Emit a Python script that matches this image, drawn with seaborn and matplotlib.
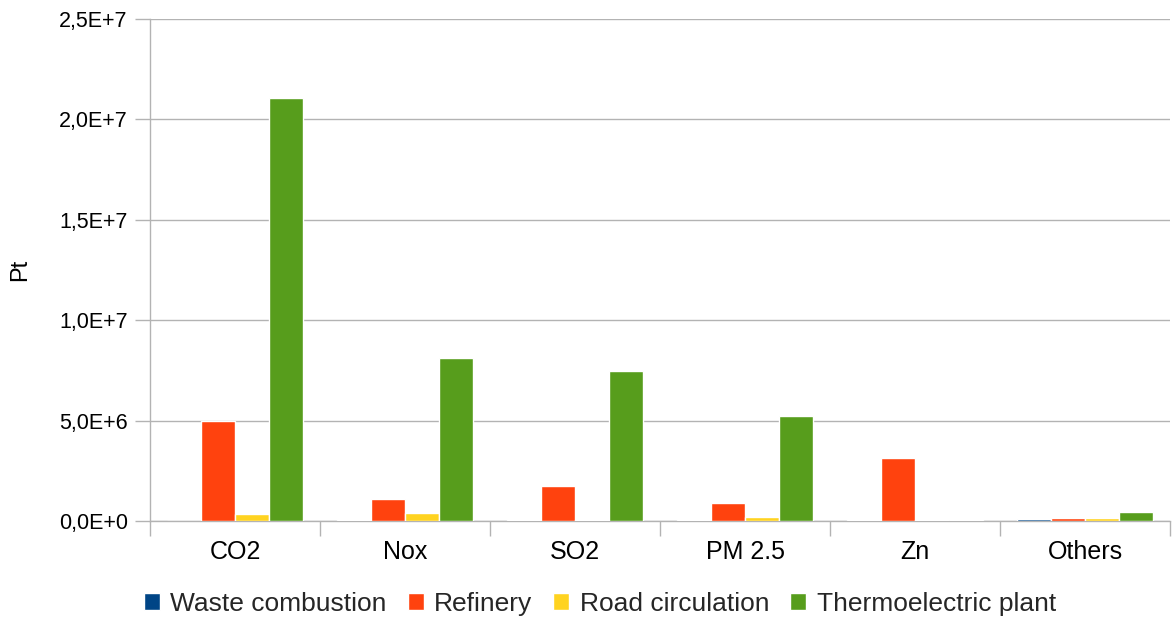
import pandas as pd
import matplotlib.pyplot as plt
import seaborn as sns
from matplotlib.ticker import FuncFormatter, MultipleLocator

# Data (Pt)
categories = ['CO2', 'Nox', 'SO2', 'PM 2.5', 'Zn', 'Others']
sources = ['Waste combustion', 'Refinery', 'Road circulation', 'Thermoelectric plant']
waste = [0.0, 0.06e6, 0.06e6, 0.06e6, 0.06e6, 0.10e6]
refinery = [4.98e6, 1.10e6, 1.74e6, 0.90e6, 3.14e6, 0.15e6]
road = [0.35e6, 0.40e6, 0.06e6, 0.20e6, 0.04e6, 0.15e6]
thermo = [21.07e6, 8.12e6, 7.47e6, 5.23e6, 0.06e6, 0.45e6]
colors = ['#004586', '#ff420e', '#ffd320', '#579d1c']

rows = []
for src, vals in zip(sources, [waste, refinery, road, thermo]):
    for cat, v in zip(categories, vals):
        rows.append({'category': cat, 'source': src, 'value': v})
df = pd.DataFrame(rows)

sns.set_theme(style='white')
plt.rcParams['font.family'] = ['Liberation Sans', 'DejaVu Sans']

fig = plt.figure(figsize=(11.76, 6.21), dpi=100)
ax = fig.add_axes([150 / 1176, 100 / 621, 1020 / 1176, 502 / 621])

sns.barplot(data=df, x='category', y='value', hue='source', order=categories,
            hue_order=sources, palette=colors, width=0.8, saturation=1,
            ax=ax, legend=True)
for p in ax.patches:
    p.set_zorder(3)

ax.set_ylim(0, 2.5e7)
ax.set_xlim(-0.5, len(categories) - 0.5)
ax.yaxis.set_major_locator(MultipleLocator(5e6))

def fmt(v, pos):
    if v == 0:
        return '0,0E+0'
    exp = int(f'{v:e}'.split('e')[1])
    mant = v / 10 ** exp
    return f'{mant:.1f}E+{exp}'.replace('.', ',')

ax.yaxis.set_major_formatter(FuncFormatter(fmt))
ax.grid(axis='y', color='#b3b3b3', linewidth=1)
ax.set_axisbelow(True)

for side in ['top', 'right']:
    ax.spines[side].set_visible(False)
for side in ['left', 'bottom']:
    ax.spines[side].set_color('#b3b3b3')
    ax.spines[side].set_linewidth(1)
    ax.spines[side].set_zorder(1)

# category ticks sit on boundaries
ax.set_xticks([i - 0.5 for i in range(len(categories) + 1)], minor=False)
ax.set_xticklabels([])
ax.set_xticks(range(len(categories)), minor=True)
ax.set_xticklabels(categories, minor=True, fontsize=18, color='black')
ax.tick_params(axis='x', which='major', length=11, color='#b3b3b3', width=1, direction='out', bottom=True)
ax.tick_params(axis='x', which='minor', length=0, pad=14)
ax.tick_params(axis='y', length=11, color='#b3b3b3', width=1, direction='out', left=True,
               labelsize=15.5, labelcolor='black', pad=5)

ax.set_xlabel('')
ax.set_ylabel('Pt', fontsize=17, color='black')
ax.yaxis.set_label_coords(-119 / 1020, 0.5)

ax.legend_.remove()
handles, labels = ax.get_legend_handles_labels()
fig.legend(handles[:4], sources, loc='center', bbox_to_anchor=(600 / 1176, 1 - 604 / 621),
           ncol=4, frameon=False, fontsize=19, handlelength=0.6, handleheight=0.6,
           handletextpad=0.4, columnspacing=0.8)

fig.savefig('out.png', dpi=100)
